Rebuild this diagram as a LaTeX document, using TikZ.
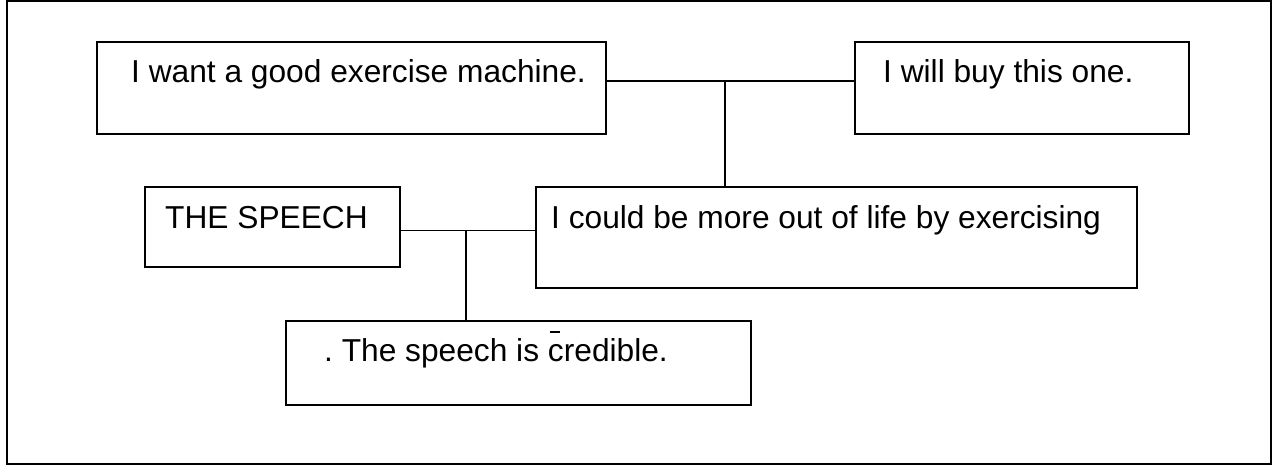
\documentclass[tikz,border=0pt]{standalone}
\usepackage{fontspec}
\setmainfont{Liberation Sans}
\frenchspacing
\newcommand\cbar{\rlap{\kern0.06em\raisebox{0.92em}{\rule{0.32em}{0.065em}}}c}
\begin{document}
\begin{tikzpicture}[x=1bp,y=-1bp,
  box/.style={draw=black, line width=2bp, rectangle, inner sep=0pt, outer sep=0pt, anchor=north west},
  txt/.style={inner sep=0pt, anchor=base west, font=\fontsize{31.7bp}{38bp}\selectfont},
  link/.style={draw=black, line width=1.8bp},
  frame/.style={draw=black, line width=2bp}]
  \useasboundingbox (0,0) rectangle (1275,466);
  \draw[frame] (6.5,1.5) rectangle (1271,464.5);

  % boxes
  \node[box, minimum width=509bp, minimum height=92bp] (b1) at (97,42) {};
  \node[box, minimum width=334bp, minimum height=92bp] (b2) at (855,42) {};
  \node[box, minimum width=255bp, minimum height=80bp] (b3) at (145,187) {};
  \node[box, minimum width=601bp, minimum height=101bp] (b4) at (536,187) {};
  \node[box, minimum width=465bp, minimum height=84bp] (b5) at (286,321) {};

  % texts
  \node[txt] (t1) at (131,83) {I want a good exercise machine.};
  \node[txt] (t2) at (883,83) {I will buy this one.};
  \node[txt] (t3) at (165,229) {THE SPEECH};
  \node[txt] (t4) at (551,229) {I could be more out of life by exercising};
  \node[txt] (t5) at (324,362) {. The speech is \cbar redible.};

  % junctions
  \coordinate (j1) at (725,81);
  \coordinate (j2) at (466,230.5);

  % connectors
  \draw[link] (b1.east |- j1) -- (b2.west |- j1);
  \draw[link] (j1) -- (b4.north -| j1);
  \draw[link] (b3.east |- j2) -- (b4.west |- j2);
  \draw[link] (j2) -- (b5.north -| j2);
\end{tikzpicture}
\end{document}
